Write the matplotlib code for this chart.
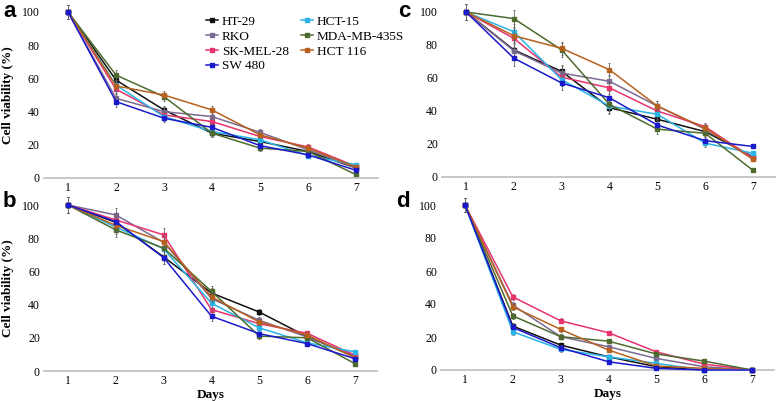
import numpy as np
import matplotlib
matplotlib.use("Agg")
import matplotlib.pyplot as plt
from matplotlib.lines import Line2D

plt.rcParams['font.family'] = ['Liberation Serif', 'DejaVu Serif']

days = [1, 2, 3, 4, 5, 6, 7]
lines = ['HT-29', 'RKO', 'SK-MEL-28', 'SW 480', 'HCT-15', 'MDA-MB-435S', 'HCT 116']
colors = ['#111111', '#7b6a92', '#e8336e', '#1a1acc', '#29b4e6', '#4d6b2e', '#b8601e']

# viability (%) per cell line, panel a
a_vals = {
    'HT-29':       [100, 59, 41, 27, 22, 16, 6],
    'RKO':         [100, 48, 40, 37, 27.5, 17, 6],
    'SK-MEL-28':   [100, 53.5, 38, 34, 25, 18.7, 7],
    'SW 480':      [100, 46, 36, 30.5, 19.5, 14, 4.6],
    'HCT-15':      [100, 56, 37, 28, 23, 13.5, 8],
    'MDA-MB-435S': [100, 62, 49, 27, 18, 16, 2],
    'HCT 116':     [100, 55.5, 50, 41, 26, 18, 6.5],
}
b_vals = {
    'HT-29':       [100, 89.5, 68.7, 47, 35.5, 20.7, 8.5],
    'RKO':         [100, 94, 77.5, 43.6, 30.5, 20.5, 9],
    'SK-MEL-28':   [100, 91, 82, 37, 28.5, 22.7, 9.5],
    'SW 480':      [100, 90, 68.3, 33, 22.5, 16.5, 7.4],
    'HCT-15':      [100, 86.7, 73.6, 40.8, 26, 17, 11.5],
    'MDA-MB-435S': [100, 85, 74, 48, 21, 20, 4.4],
    'HCT 116':     [100, 87.7, 78, 44.6, 29.5, 21.7, 8],
}
c_vals = {
    'HT-29':       [100, 77, 64, 42, 35, 27.5, 12.3],
    'RKO':         [100, 76.5, 63, 58, 43, 29, 12],
    'SK-MEL-28':   [100, 84, 60.5, 54, 40, 30.5, 11.3],
    'SW 480':      [100, 72, 57, 48, 31.5, 22, 18.5],
    'HCT-15':      [100, 88, 59, 43, 38, 20.5, 14.4],
    'MDA-MB-435S': [100, 96, 77, 44, 29, 26.5, 4],
    'HCT 116':     [100, 85.6, 78, 65, 43, 29.5, 10.7],
}
d_vals = {
    'HT-29':       [100, 26.6, 15.1, 8, 2, 0, 0],
    'RKO':         [100, 39.3, 20.2, 14.1, 7, 2, 0],
    'SK-MEL-28':   [100, 44.3, 29.8, 22.6, 11, 3.6, 0],
    'SW 480':      [100, 25.8, 13.5, 5, 1, 0, 0],
    'HCT-15':      [100, 23.2, 12.5, 8, 4, 0, 0],
    'MDA-MB-435S': [100, 32.8, 20.2, 17.5, 9.7, 5.4, 0],
    'HCT 116':     [100, 38.3, 24.6, 12.1, 2.4, 1, 0],
}
# approximate SD per day for each panel
a_err = [4, 3, 2.5, 2.5, 2, 1.5, 1]
b_err = [5, 4, 4, 3, 2, 1.5, 1]
c_err = [5, 5, 4, 4, 3, 2.5, 1]
d_err = [4, 2, 1.5, 1, 1, 0.5, 0]

W, H = 778, 401
fig = plt.figure(figsize=(W / 100, H / 100), dpi=100)

xmin, xmax = 0.5, 7.45


def make_ax(day1_px, day7_px, top_px, bottom_px):
    per_day = (day7_px - day1_px) / 6
    left = day1_px - (1 - xmin) * per_day
    right = day7_px + (xmax - 7) * per_day
    return fig.add_axes([left / W, 1 - bottom_px / H, (right - left) / W, (bottom_px - top_px) / H])


panels = [
    ('a', a_vals, a_err, make_ax(68, 356, 12, 178), False, True),
    ('b', b_vals, b_err, make_ax(68, 355, 205, 371), True, True),
    ('c', c_vals, c_err, make_ax(466, 753, 12, 177), False, False),
    ('d', d_vals, d_err, make_ax(465, 752, 205, 370), True, False),
]

for label, vals, err, ax, show_days, show_ylabel in panels:
    for name, col in zip(lines, colors):
        z = 3 if name == 'SW 480' else 2
        ax.errorbar(days, vals[name], yerr=err, fmt='none', ecolor='#666666',
                    elinewidth=0.6, capsize=1.0, capthick=0.6, clip_on=False)
        ax.plot(days, vals[name], color=col, lw=1.1, marker='s', ms=2.2,
                mec=col, clip_on=False, zorder=z)
    ax.set_xlim(xmin, xmax)
    ax.set_ylim(0, 100)
    ax.set_yticks([0, 20, 40, 60, 80, 100])
    ax.set_xticks(days)
    ax.tick_params(length=0, labelsize=8.5, pad=3)
    for s in ['top', 'right', 'left']:
        ax.spines[s].set_visible(False)
    ax.spines['bottom'].set_color('#c4c4c4')
    ax.spines['bottom'].set_linewidth(1.3)
    if show_days:
        ax.set_xlabel('Days', fontsize=9.5, fontweight='bold', labelpad=1)
    if show_ylabel:
        ax.set_ylabel('Cell viability (%)', fontsize=9.5, fontweight='bold', labelpad=6)
    if label == 'a':
        handles = [Line2D([], [], color=c, lw=1.1, marker='s', ms=2.2, mec=c)
                   for c in colors]
        ax.legend(handles, lines, ncol=2, loc='upper left', bbox_to_anchor=(0.47, 1.01),
                  frameon=False, fontsize=9.5, handlelength=0.9, handletextpad=0.3,
                  columnspacing=0.9, labelspacing=0.2, borderaxespad=0)

fig.text(3 / W, 1 - 1 / H, 'a', fontsize=16, fontweight='bold', va='top',
         family='Liberation Sans')
fig.text(3 / W, 1 - 191 / H, 'b', fontsize=16, fontweight='bold', va='top',
         family='Liberation Sans')
fig.text(398 / W, 1 - 1 / H, 'c', fontsize=16, fontweight='bold', va='top',
         family='Liberation Sans')
fig.text(396 / W, 1 - 191 / H, 'd', fontsize=16, fontweight='bold', va='top',
         family='Liberation Sans')

fig.savefig('out.png', dpi=100)
